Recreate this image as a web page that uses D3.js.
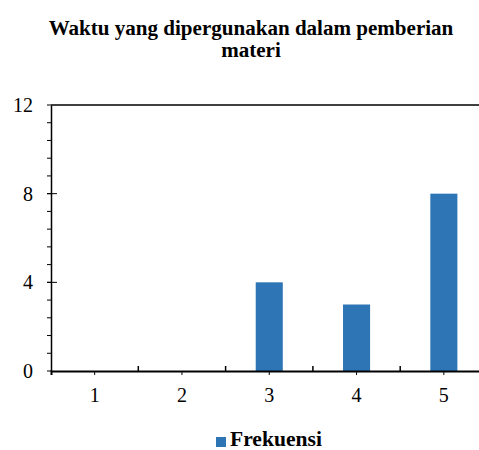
<!DOCTYPE html>
<html><head><meta charset="utf-8">
<script src="https://cdn.jsdelivr.net/npm/d3@7"></script>
<style>body{margin:0;background:#fff;}svg{display:block;} svg text{font-family:"Liberation Serif","Times New Roman",Times,serif;}</style>
</head><body>
<script>
const categories = ["1","2","3","4","5"];
const values = [0,0,4,3,8];
const yTicks = [0,4,8,12];
const seriesName = "Frekuensi";
const title = ["Waktu yang dipergunakan dalam pemberian","materi"];

(function(){
const W=479,H=450;
const mLeft=51, mRight=487.5, mTop=105, mBottom=371;
const svg=d3.select("body").append("svg").attr("width",W).attr("height",H);

function fit(sel, target){
  const n=sel.node(); const fs=+sel.attr("font-size");
  const w=n.getComputedTextLength();
  if(w>0) sel.attr("font-size", fs*target/w);
}

const x=d3.scaleBand().domain(categories).range([mLeft,mRight]).paddingInner(0.69).paddingOuter(0.345);
const xb=d3.scaleBand().domain(categories).range([mLeft,mRight]);
const y=d3.scaleLinear().domain([0,12]).range([mBottom,mTop]);

// title
const tt=svg.append("g").selectAll("text").data(title).join("text")
  .attr("x",251).attr("y",(d,i)=>35+i*22).attr("text-anchor","middle")
  .attr("font-weight","bold").attr("font-size",18).text(d=>d);
const t0=d3.select(tt.nodes()[0]); fit(t0,405);
tt.attr("font-size", t0.attr("font-size"));

// bars
svg.append("g").selectAll("rect").data(values).join("rect")
  .attr("x",(d,i)=>x(categories[i])).attr("width",x.bandwidth())
  .attr("y",d=>y(d)).attr("height",d=>mBottom-y(d)).attr("fill","#2E75B6");

// top border
svg.append("line").attr("x1",mLeft).attr("x2",mRight).attr("y1",mTop).attr("y2",mTop)
  .attr("stroke","#000").attr("stroke-width",1.5);

// minor y ticks
const minor=d3.range(0,12.001,0.8);
svg.append("g").selectAll("line").data(minor).join("line")
  .attr("x1",mLeft-4).attr("x2",mLeft).attr("y1",d=>y(d)).attr("y2",d=>y(d))
  .attr("stroke","#000").attr("stroke-width",1);

// y axis
const yAxis=svg.append("g").attr("transform",`translate(${mLeft},0)`)
  .call(d3.axisLeft(y).tickValues(yTicks).tickSize(0).tickPadding(18).tickFormat(d3.format("d")));
yAxis.attr("font-family",null).attr("font-size",null);
yAxis.select(".domain").attr("stroke","#000").attr("stroke-width",1.5);
const ylab=yAxis.selectAll("text").attr("font-size",18).attr("fill","#000");
const y12=yAxis.selectAll("text").filter(d=>d===12);
fit(y12,20);
ylab.attr("font-size", y12.attr("font-size"));
// major y ticks crossing
svg.append("g").selectAll("line").data(yTicks.slice(1,3)).join("line")
  .attr("x1",mLeft-4).attr("x2",mLeft+6).attr("y1",d=>y(d)).attr("y2",d=>y(d))
  .attr("stroke","#000").attr("stroke-width",1);

// x axis
const xAxis=svg.append("g").attr("transform",`translate(0,${mBottom})`)
  .call(d3.axisBottom(xb).tickSize(4).tickPadding(10));
xAxis.attr("font-family",null).attr("font-size",null);
xAxis.select(".domain").attr("stroke","#000").attr("stroke-width",2);
xAxis.selectAll(".tick line").attr("stroke","#000");
xAxis.selectAll("text").attr("font-size", y12.attr("font-size")).attr("fill","#000")
  .attr("y",31).attr("dy",0);
// boundary ticks pointing up
svg.append("g").selectAll("line").data(categories.slice(1)).join("line")
  .attr("x1",d=>xb(d)).attr("x2",d=>xb(d)).attr("y1",mBottom).attr("y2",mBottom-5)
  .attr("stroke","#000").attr("stroke-width",1.5);

// legend
const lg=svg.append("g");
lg.append("rect").attr("x",216).attr("y",437).attr("width",10).attr("height",10).attr("fill","#2E75B6");
const lt=lg.append("text").attr("x",230).attr("y",446).attr("font-weight","bold")
  .attr("font-size",18).attr("fill","#000").text(seriesName);
fit(lt,92);
})();
</script>
</body></html>
